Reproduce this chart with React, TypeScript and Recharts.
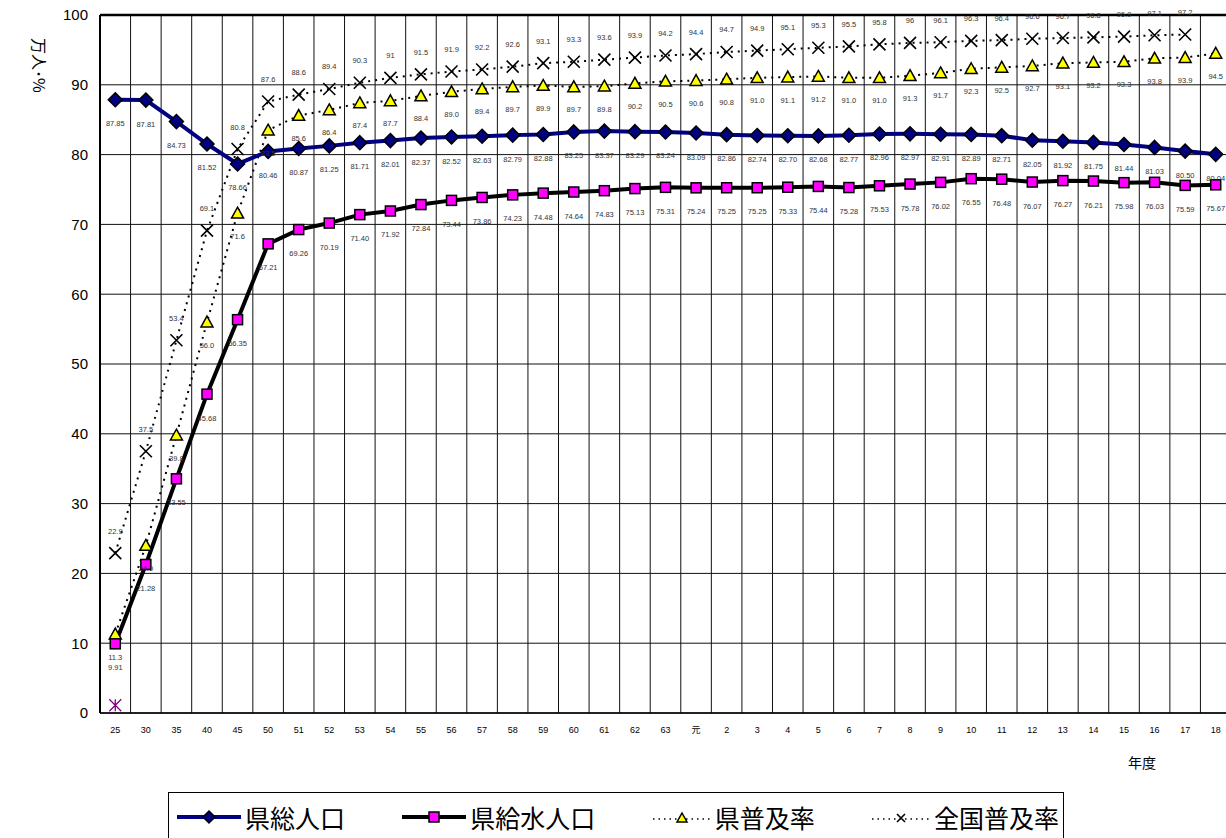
import { LineChart, Line, XAxis, YAxis, CartesianGrid, Legend, LabelList, ReferenceLine } from "recharts";

const years = [
  "25", "30", "35", "40", "45", "50", "51", "52", "53", "54", "55", "56", "57", "58", "59", "60", "61", "62", "63",
  "元", "2", "3", "4", "5", "6", "7", "8", "9", "10", "11", "12", "13", "14", "15", "16", "17", "18",
];

// 県総人口 (万人)
const totalPop = [
  87.85, 87.81, 84.73, 81.52, 78.66, 80.46, 80.87, 81.25, 81.71, 82.01, 82.37, 82.52, 82.63, 82.79, 82.88, 83.25, 83.37,
  83.29, 83.24, 83.09, 82.86, 82.74, 82.7, 82.68, 82.77, 82.96, 82.97, 82.91, 82.89, 82.71, 82.05, 81.92, 81.75, 81.44,
  81.03, 80.5, 80.04,
];

// 県給水人口 (万人)
const supplyPop = [
  9.91, 21.28, 33.55, 45.68, 56.35, 67.21, 69.26, 70.19, 71.4, 71.92, 72.84, 73.44, 73.86, 74.23, 74.48, 74.64, 74.83,
  75.13, 75.31, 75.24, 75.25, 75.25, 75.33, 75.44, 75.28, 75.53, 75.78, 76.02, 76.55, 76.48, 76.07, 76.27, 76.21, 75.98,
  76.03, 75.59, 75.67,
];

// 県普及率 (%)
const prefRate = [
  11.3, 24.0, 39.8, 56.0, 71.6, 83.5, 85.6, 86.4, 87.4, 87.7, 88.4, 89.0, 89.4, 89.7, 89.9, 89.7, 89.8, 90.2, 90.5, 90.6,
  90.8, 91.0, 91.1, 91.2, 91.0, 91.0, 91.3, 91.7, 92.3, 92.5, 92.7, 93.1, 93.2, 93.3, 93.8, 93.9, 94.5,
];

// 全国普及率 (%)
const nationalRate = [
  22.9, 37.5, 53.4, 69.1, 80.8, 87.6, 88.6, 89.4, 90.3, 91, 91.5, 91.9, 92.2, 92.6, 93.1, 93.3, 93.6, 93.9, 94.2, 94.4,
  94.7, 94.9, 95.1, 95.3, 95.5, 95.8, 96, 96.1, 96.3, 96.4, 96.6, 96.7, 96.8, 96.9, 97.1, 97.2, null,
];

// stray marker near the origin
const strayMark = [1.1];

const yTicks = [0, 10, 20, 30, 40, 50, 60, 70, 80, 90, 100];

const rows = years.map((year, i) => ({
  year,
  total: totalPop[i],
  supply: supplyPop[i],
  pref: prefRate[i],
  nation: nationalRate[i],
  stray: strayMark[i] ?? null,
}));

const LABEL_FONT = "'Liberation Sans', Arial, sans-serif";
const JP_FONT = "'Noto Sans CJK JP', 'Noto Sans CJK SC', sans-serif";

function Diamond({ cx, cy, s = 7 }: any) {
  if (cx == null || cy == null) return null;
  return (
    <path
      d={`M${cx},${cy - s}L${cx + s},${cy}L${cx},${cy + s}L${cx - s},${cy}Z`}
      fill="#000080"
      stroke="#000"
      strokeWidth={1.5}
    />
  );
}

function Square({ cx, cy, s = 5 }: any) {
  if (cx == null || cy == null) return null;
  return <rect x={cx - s} y={cy - s} width={s * 2} height={s * 2} fill="#ff00ff" stroke="#000" strokeWidth={1.5} />;
}

function Triangle({ cx, cy, s = 6 }: any) {
  if (cx == null || cy == null) return null;
  return (
    <path
      d={`M${cx},${cy - s}L${cx + s},${cy + s * 0.8}L${cx - s},${cy + s * 0.8}Z`}
      fill="#ffff00"
      stroke="#000"
      strokeWidth={1.5}
    />
  );
}

function Cross({ cx, cy, s = 6 }: any) {
  if (cx == null || cy == null) return null;
  return (
    <path d={`M${cx - s},${cy - s}L${cx + s},${cy + s}M${cx + s},${cy - s}L${cx - s},${cy + s}`} stroke="#000" strokeWidth={1.6} />
  );
}

function Asterisk({ cx, cy, s = 6 }: any) {
  if (cx == null || cy == null) return null;
  return (
    <path
      d={`M${cx - s},${cy - s}L${cx + s},${cy + s}M${cx + s},${cy - s}L${cx - s},${cy + s}M${cx},${cy - s}L${cx},${cy + s}`}
      stroke="#800080"
      strokeWidth={1.3}
    />
  );
}

const makeLabel = (dy: number, fmt: (v: number) => string) => (props: any) => {
  const { value, index } = props;
  if (value == null) return null;
  const x = props.x ?? props.viewBox?.x;
  const y = props.y ?? props.viewBox?.y;
  if (x == null || y == null) return null;
  return (
    <text
      key={index}
      x={x}
      y={y + dy}
      textAnchor="middle"
      dominantBaseline="central"
      fontSize={7.5}
      fill="#333"
      fontFamily={LABEL_FONT}
    >
      {fmt(value)}
    </text>
  );
};

function LegendBox() {
  const item = (sample: React.ReactNode, text: string) => (
    <div style={{ display: "flex", alignItems: "center" }}>
      {sample}
      <span style={{ marginLeft: 4 }}>{text}</span>
    </div>
  );
  return (
    <div
      style={{
        display: "flex",
        alignItems: "center",
        justifyContent: "space-between",
        boxSizing: "border-box",
        width: 896,
        height: 50,
        border: "1px solid #000",
        padding: "0 4px 0 8px",
        background: "#fff",
        fontFamily: JP_FONT,
        fontSize: 25,
        lineHeight: 1,
        color: "#000",
      }}
    >
      {item(
        <svg width={64} height={20}>
          <line x1={0} y1={10} x2={64} y2={10} stroke="#000080" strokeWidth={4} />
          <Diamond cx={32} cy={10} s={6} />
        </svg>,
        "県総人口"
      )}
      {item(
        <svg width={64} height={20}>
          <line x1={0} y1={10} x2={64} y2={10} stroke="#000" strokeWidth={4} />
          <Square cx={32} cy={10} s={5} />
        </svg>,
        "県給水人口"
      )}
      {item(
        <svg width={58} height={20}>
          <line x1={0} y1={12} x2={58} y2={12} stroke="#000" strokeWidth={1.5} strokeDasharray="1.5 4" />
          <Triangle cx={29} cy={11} s={5} />
        </svg>,
        "県普及率"
      )}
      {item(
        <svg width={58} height={20}>
          <line x1={0} y1={12} x2={58} y2={12} stroke="#000" strokeWidth={1.5} strokeDasharray="1.5 4" />
          <Cross cx={29} cy={11} s={4} />
        </svg>,
        "全国普及率"
      )}
    </div>
  );
}

export default function App() {
  return (
    <div style={{ position: "absolute", left: 0, top: 0, width: 1226, height: 838, overflow: "hidden", background: "#fff" }}>
      <LineChart width={1240} height={838} data={rows} margin={{ top: 15, right: 9, bottom: 95, left: 60 }}>
        <CartesianGrid
          stroke="#111"
          strokeWidth={1}
          verticalCoordinatesGenerator={({ offset }: any) =>
            Array.from({ length: years.length + 1 }, (_, k) => offset.left + (k * offset.width) / years.length)
          }
        />
        <XAxis
          dataKey="year"
          scale="band"
          interval={0}
          height={30}
          axisLine={{ stroke: "#000", strokeWidth: 1.5 }}
          tickLine={false}
          tickSize={6}
          tickMargin={8}
          tick={{ fontSize: 9, fill: "#000", fontFamily: `'Liberation Sans', Arial, ${JP_FONT}` }}
        />
        <YAxis
          width={40}
          domain={[0, 100]}
          ticks={yTicks}
          interval={0}
          axisLine={{ stroke: "#000", strokeWidth: 2 }}
          tickLine={false}
          tickSize={0}
          tickMargin={12}
          tick={{ fontSize: 15, fill: "#000", fontFamily: LABEL_FONT }}
        />
        <ReferenceLine y={100} stroke="#000" strokeWidth={2.5} />
        <Legend
          layout="horizontal"
          verticalAlign="middle"
          align="center"
          wrapperStyle={{ left: 168, top: 792, width: 896 }}
          content={() => <LegendBox />}
        />
        <Line
          dataKey="nation"
          stroke="#000"
          strokeWidth={2}
          strokeDasharray="2 5"
          dot={<Cross />}
          activeDot={false}
          isAnimationActive={false}
        >
          <LabelList dataKey="nation" content={makeLabel(-22, (v) => String(v))} />
        </Line>
        <Line
          dataKey="pref"
          stroke="#000"
          strokeWidth={2}
          strokeDasharray="2 5"
          dot={<Triangle />}
          activeDot={false}
          isAnimationActive={false}
        >
          <LabelList dataKey="pref" content={makeLabel(23, (v) => v.toFixed(1))} />
        </Line>
        <Line
          dataKey="total"
          stroke="#000080"
          strokeWidth={4}
          dot={<Diamond />}
          activeDot={false}
          isAnimationActive={false}
        >
          <LabelList dataKey="total" content={makeLabel(24, (v) => v.toFixed(2))} />
        </Line>
        <Line
          dataKey="supply"
          stroke="#000"
          strokeWidth={4}
          dot={<Square />}
          activeDot={false}
          isAnimationActive={false}
        >
          <LabelList dataKey="supply" content={makeLabel(24, (v) => v.toFixed(2))} />
        </Line>
        <Line dataKey="stray" stroke="none" dot={<Asterisk />} activeDot={false} isAnimationActive={false} />
      </LineChart>
      <div
        style={{
          position: "absolute",
          left: 52,
          top: 38,
          transform: "rotate(90deg)",
          transformOrigin: "left top",
          fontFamily: JP_FONT,
          fontSize: 16,
          whiteSpace: "nowrap",
        }}
      >
        万人･%
      </div>
      <div style={{ position: "absolute", left: 1128, top: 752, fontFamily: JP_FONT, fontSize: 14, color: "#000" }}>
        年度
      </div>
    </div>
  );
}
